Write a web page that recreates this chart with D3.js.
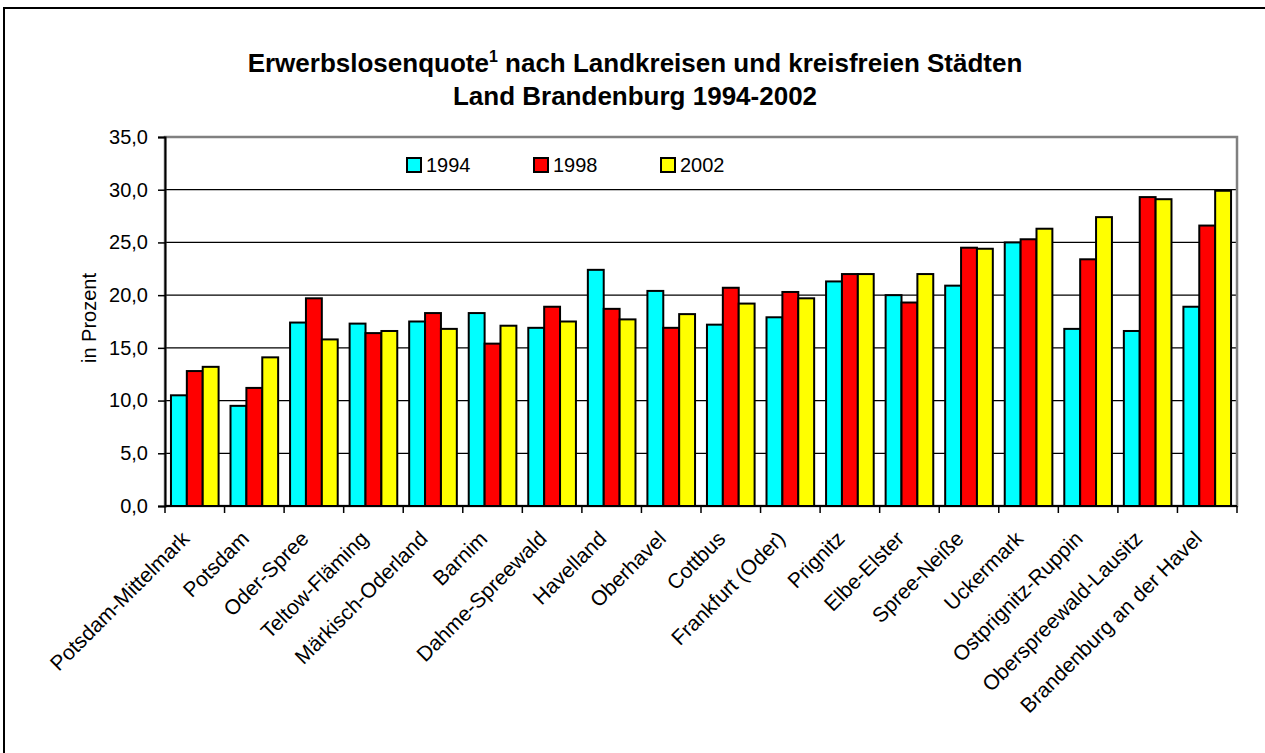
<!DOCTYPE html>
<html>
<head>
<meta charset="utf-8">
<script src="https://cdn.jsdelivr.net/npm/d3@7"></script>
<style>
body { margin: 0; background: #fff; }
text { font-family: "Liberation Sans", Arial, sans-serif; fill: #000; }
</style>
</head>
<body>
<script>
var w = 1265;
var h = 753;

var kreise = ["Potsdam-Mittelmark", "Potsdam", "Oder-Spree", "Teltow-Fläming", "Märkisch-Oderland",
	"Barnim", "Dahme-Spreewald", "Havelland", "Oberhavel", "Cottbus", "Frankfurt (Oder)",
	"Prignitz", "Elbe-Elster", "Spree-Neiße", "Uckermark", "Ostprignitz-Ruppin",
	"Oberspreewald-Lausitz", "Brandenburg an der Havel"];
var jahre = ["1994", "1998", "2002"];
var werte1994 = [10.5, 9.5, 17.4, 17.3, 17.5, 18.3, 16.9, 22.4, 20.4, 17.2, 17.9, 21.3, 20.0, 20.9, 25.0, 16.8, 16.6, 18.9];
var werte1998 = [12.8, 11.2, 19.7, 16.4, 18.3, 15.4, 18.9, 18.7, 16.9, 20.7, 20.3, 22.0, 19.3, 24.5, 25.3, 23.4, 29.3, 26.6];
var werte2002 = [13.2, 14.1, 15.8, 16.6, 16.8, 17.1, 17.5, 17.7, 18.2, 19.2, 19.7, 22.0, 22.0, 24.4, 26.3, 27.4, 29.1, 29.9];
var yTicks = [0, 5, 10, 15, 20, 25, 30, 35];
var farben = ["#00ffff", "#ff0000", "#ffff00"];

var serien = [werte1994, werte1998, werte2002];

// plot area (note: "top" is reserved on window)
var pLeft = 165, pRight = 1237, pTop = 137, pBottom = 506;

var svg = d3.select("body").append("svg")
	.attr("width", w)
	.attr("height", h);

// outer frame (only top and left edge visible)
svg.append("path")
	.attr("d", "M4," + h + "V8H" + w)
	.attr("fill", "none")
	.attr("stroke", "#000")
	.attr("stroke-width", 2);

var de = d3.formatLocale({decimal: ",", thousands: ".", grouping: [3], currency: ["", " €"]});
var fmt = de.format(".1f");

var x0 = d3.scaleBand().domain(kreise).range([pLeft, pRight]).paddingInner(0.2).paddingOuter(0.1);
var x1 = d3.scaleBand().domain(jahre).range([0, x0.bandwidth()]);
var y = d3.scaleLinear().domain([0, 35]).range([pBottom, pTop]);

// gridlines
svg.append("g").selectAll("line")
	.data(yTicks.filter(function(d) { return d > 0 && d < 35; }))
	.enter().append("line")
	.attr("x1", pLeft).attr("x2", pRight)
	.attr("y1", function(d) { return y(d); })
	.attr("y2", function(d) { return y(d); })
	.attr("stroke", "#000")
	.attr("stroke-width", 1.2);

// plot area border
svg.append("rect")
	.attr("x", pLeft).attr("y", pTop)
	.attr("width", pRight - pLeft).attr("height", pBottom - pTop)
	.attr("fill", "none")
	.attr("stroke", "#808080")
	.attr("stroke-width", 2.5);

// bars
var gruppen = svg.append("g").selectAll("g")
	.data(kreise)
	.enter().append("g")
	.attr("transform", function(d) { return "translate(" + x0(d) + ",0)"; });

gruppen.selectAll("rect")
	.data(function(d, i) { return jahre.map(function(j, k) { return {jahr: j, wert: serien[k][i], k: k}; }); })
	.enter().append("rect")
	.attr("x", function(d) { return x1(d.jahr); })
	.attr("y", function(d) { return y(d.wert); })
	.attr("width", x1.bandwidth())
	.attr("height", function(d) { return y(0) - y(d.wert); })
	.attr("fill", function(d) { return farben[d.k]; })
	.attr("stroke", "#000")
	.attr("stroke-width", 2);

// y axis
var yAxis = svg.append("g")
	.attr("transform", "translate(" + pLeft + ",0)")
	.call(d3.axisLeft(y).tickValues(yTicks).tickFormat(fmt).tickSize(7).tickPadding(10));
yAxis.select(".domain").attr("stroke", "#000").attr("stroke-width", 2);
yAxis.selectAll(".tick line").attr("stroke", "#000").attr("stroke-width", 1.5);
yAxis.selectAll("text").style("font-size", "20px").attr("font-family", null);

// x axis, ticks on category borders
var xAxis = svg.append("g")
	.attr("transform", "translate(0," + pBottom + ")");
xAxis.append("line")
	.attr("x1", pLeft).attr("x2", pRight)
	.attr("stroke", "#000").attr("stroke-width", 2);
var grenzen = kreise.map(function(d) { return x0(d) - x0.step() * 0.1; }).concat([pRight]);
xAxis.selectAll(".tk")
	.data(grenzen)
	.enter().append("line")
	.attr("class", "tk")
	.attr("x1", function(d) { return d; }).attr("x2", function(d) { return d; })
	.attr("y1", 0).attr("y2", 7)
	.attr("stroke", "#000").attr("stroke-width", 1.5);
xAxis.selectAll(".lbl")
	.data(kreise)
	.enter().append("text")
	.attr("class", "lbl")
	.attr("transform", function(d) { return "translate(" + (x0(d) + x0.bandwidth() / 2 - 4) + ",34) rotate(-45)"; })
	.attr("text-anchor", "end")
	.style("font-size", "21px")
	.text(function(d) { return d; });

// y axis title
svg.append("text")
	.attr("transform", "translate(96,318) rotate(-90)")
	.attr("text-anchor", "middle")
	.style("font-size", "20px")
	.text("in Prozent");

// title
var titel = svg.append("text")
	.attr("x", 635).attr("y", 72)
	.attr("text-anchor", "middle")
	.style("font-size", "26px")
	.style("font-weight", "bold");
titel.append("tspan").text("Erwerbslosenquote");
titel.append("tspan").attr("dy", -10).style("font-size", "16px").text("1");
titel.append("tspan").attr("dy", 10).text(" nach Landkreisen und kreisfreien Städten");
svg.append("text")
	.attr("x", 635).attr("y", 105)
	.attr("text-anchor", "middle")
	.style("font-size", "26px")
	.style("font-weight", "bold")
	.text("Land Brandenburg 1994-2002");

// legend
var legende = svg.append("g").selectAll("g")
	.data(jahre)
	.enter().append("g")
	.attr("transform", function(d, i) { return "translate(" + [407, 534, 661][i] + ",158)"; });
legende.append("rect")
	.attr("width", 14).attr("height", 14)
	.attr("fill", function(d, i) { return farben[i]; })
	.attr("stroke", "#000").attr("stroke-width", 2);
legende.append("text")
	.attr("x", 19).attr("y", 7).attr("dy", "0.35em")
	.style("font-size", "20px")
	.text(function(d) { return d; });
</script>
</body>
</html>
